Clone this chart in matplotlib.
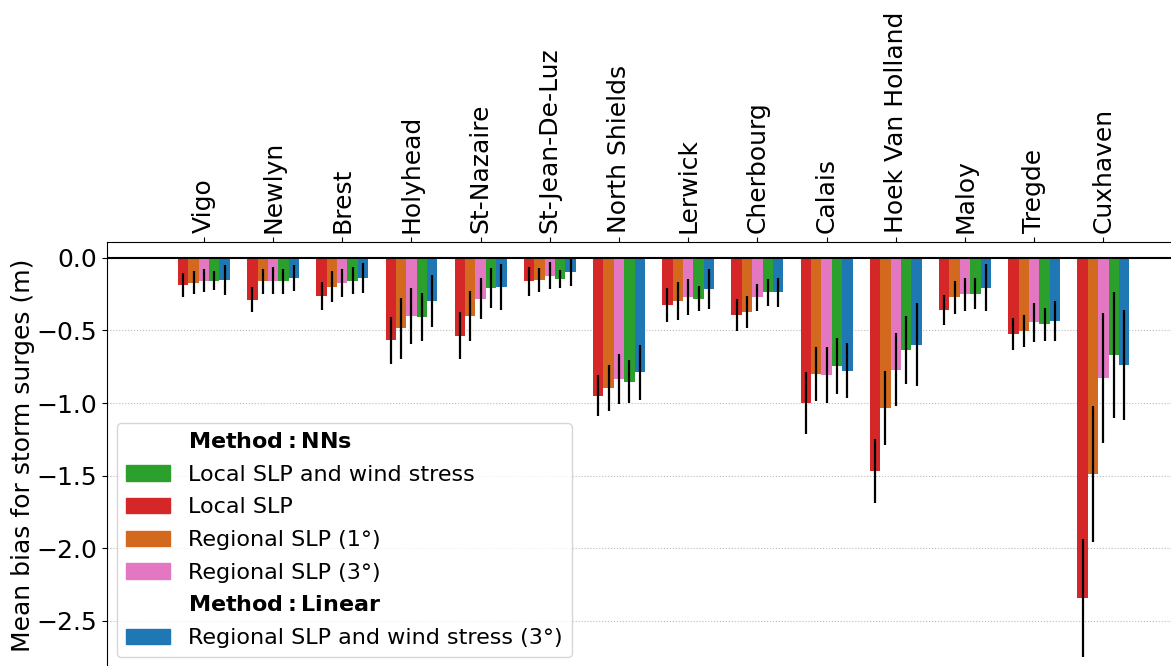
import numpy as np
import matplotlib.pyplot as plt
from matplotlib.patches import Patch

stations = ['Vigo', 'Newlyn', 'Brest', 'Holyhead', 'St-Nazaire', 'St-Jean-De-Luz',
            'North Shields', 'Lerwick', 'Cherbourg', 'Calais', 'Hoek Van Holland',
            'Maloy', 'Tregde', 'Cuxhaven']

# mean bias per model (m)
local_slp = [-0.186, -0.289, -0.262, -0.569, -0.537, -0.163, -0.950, -0.324, -0.393,
             -0.999, -1.467, -0.358, -0.523, -2.341]
regional_1 = [-0.172, -0.163, -0.200, -0.486, -0.400, -0.151, -0.895, -0.296, -0.372,
              -0.799, -1.033, -0.273, -0.503, -1.488]
regional_3 = [-0.158, -0.158, -0.172, -0.400, -0.282, -0.124, -0.833, -0.269, -0.273,
              -0.806, -0.771, -0.252, -0.445, -0.826]
local_wind = [-0.158, -0.163, -0.158, -0.406, -0.207, -0.145, -0.854, -0.282, -0.238,
              -0.744, -0.634, -0.248, -0.459, -0.670]
linear_3 = [-0.151, -0.138, -0.138, -0.296, -0.200, -0.096, -0.789, -0.213, -0.238,
            -0.778, -0.599, -0.207, -0.438, -0.739]

# standard deviations (error bars)
local_slp_err = [0.084, 0.086, 0.098, 0.163, 0.161, 0.102, 0.140, 0.117, 0.109,
                 0.212, 0.219, 0.104, 0.111, 0.405]
regional_1_err = [0.080, 0.084, 0.107, 0.208, 0.171, 0.083, 0.158, 0.132, 0.109,
                  0.187, 0.257, 0.114, 0.111, 0.471]
regional_3_err = [0.080, 0.094, 0.095, 0.193, 0.140, 0.092, 0.172, 0.123, 0.093,
                  0.193, 0.252, 0.112, 0.132, 0.448]
local_wind_err = [0.066, 0.084, 0.094, 0.165, 0.139, 0.063, 0.149, 0.086, 0.094,
                  0.193, 0.232, 0.106, 0.111, 0.433]
linear_3_err = [0.103, 0.088, 0.102, 0.180, 0.157, 0.095, 0.189, 0.139, 0.101,
                0.189, 0.287, 0.161, 0.138, 0.378]

fig = plt.figure(figsize=(11.71, 6.66), dpi=100)
# axes is cropped on the right and bottom like the original picture
ax = fig.add_axes([0.0914, -0.0413, 0.9336, 0.6773])

x = np.arange(len(stations))
w = 0.15
series = [
    (local_slp, local_slp_err, '#d62728'),
    (regional_1, regional_1_err, '#d2691e'),
    (regional_3, regional_3_err, '#e377c2'),
    (local_wind, local_wind_err, '#2ca02c'),
    (linear_3, linear_3_err, '#1f77b4'),
]
for i, (vals, errs, col) in enumerate(series):
    ax.bar(x + (i - 2) * w, vals, w, yerr=errs, color=col, zorder=2,
           error_kw=dict(ecolor='black', elinewidth=1.6, capsize=0, zorder=3))

ax.axhline(0, color='black', lw=1.5, zorder=4)
ax.set_xlim(-1.4, 14.4)
ax.set_ylim(-3.0, 0.106)
ax.set_yticks([0, -0.5, -1.0, -1.5, -2.0, -2.5])
ax.yaxis.grid(True, linestyle=':', color='#bbbbbb', lw=0.8, zorder=0)
ax.set_axisbelow(True)

ax.xaxis.tick_top()
ax.set_xticks(x)
ax.set_xticklabels(stations, rotation=90, fontsize=18)
ax.tick_params(axis='y', labelsize=18)
ax.set_ylabel('Mean bias for storm surges (m)', fontsize=18)
ax.yaxis.set_label_coords(-0.066, 0.529)

handles = [
    Patch(visible=False),
    Patch(color='#2ca02c'),
    Patch(color='#d62728'),
    Patch(color='#d2691e'),
    Patch(color='#e377c2'),
    Patch(visible=False),
    Patch(color='#1f77b4'),
]
labels = [
    r'$\bf{Method: NNs}$',
    'Local SLP and wind stress',
    'Local SLP',
    'Regional SLP (1°)',
    'Regional SLP (3°)',
    r'$\bf{Method: Linear}$',
    'Regional SLP and wind stress (3°)',
]
ax.legend(handles, labels, loc='lower left', fontsize=16, labelspacing=0.57,
          bbox_to_anchor=(117 / 1171, 9 / 666), bbox_transform=fig.transFigure,
          borderaxespad=0)

fig.savefig('out.png', dpi=100)
